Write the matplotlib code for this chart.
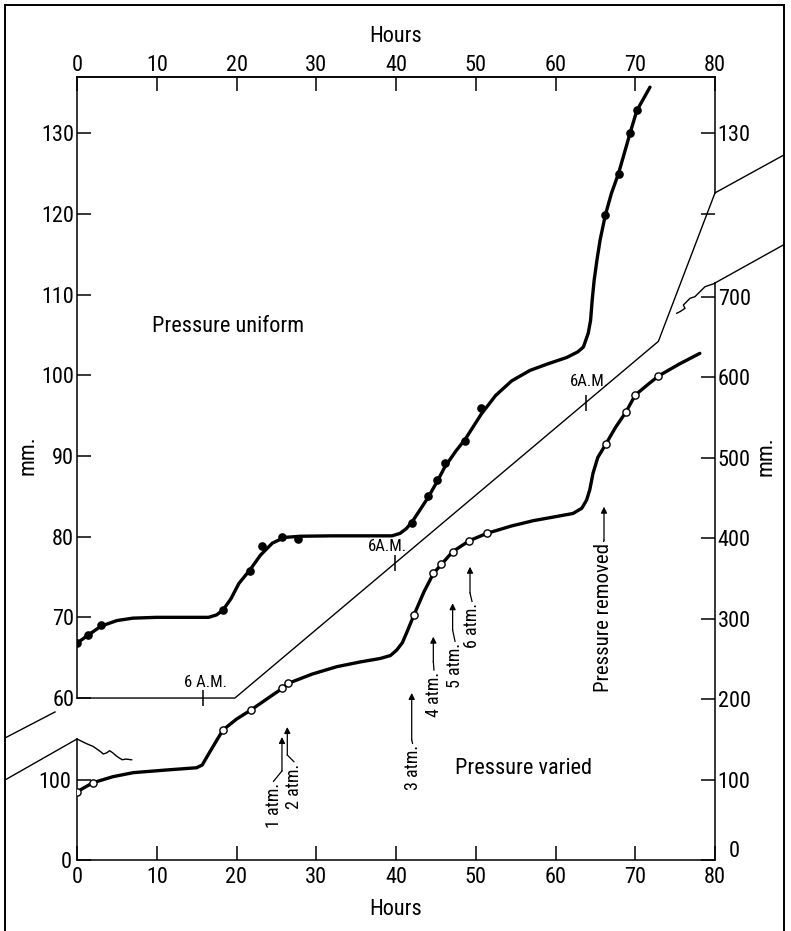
import matplotlib
matplotlib.use('Agg')
import matplotlib.pyplot as plt
from matplotlib.lines import Line2D
from matplotlib import font_manager as fm

_avail = set(f.name for f in fm.fontManager.ttflist)
_fam = [f for f in ['Roboto Condensed', 'PT Sans Narrow', 'Liberation Sans Narrow'] if f in _avail]
plt.rcParams['font.family'] = (_fam[:1] or ['Liberation Sans']) + ['DejaVu Sans']

# ---------------- data ----------------
hour_ticks = [0, 10, 20, 30, 40, 50, 60, 70, 80]
upper_ticks = [60, 70, 80, 90, 100, 110, 120, 130]          # left scale, mm (Pressure uniform)
right_ticks = [0, 100, 200, 300, 400, 500, 600, 700]       # right scale, mm (Pressure varied)
right_labels = ['', '100', '200', '300', '400', '500', '600', '700']
lower_left_ticks = [0, 100]
upper_right_ticks = [120, 130]
upper_right_labels = ['', '130']

# Pressure uniform: observations (filled dots) and drawn curve, left scale
uni_pts_h = [0, 1.4, 3.0, 18.3, 21.7, 23.2, 25.7, 27.75, 42.0, 44.05, 45.2, 46.1, 48.7, 50.7,
             66.2, 67.9, 69.35, 70.2]
uni_pts_mm = [66.8, 67.8, 69.0, 70.9, 75.7, 78.8, 79.9, 79.7, 81.7, 85.0, 87.0, 89.1, 91.9, 96.0,
              119.85, 125.0, 130.0, 132.9]
uni_curve_h = [0, 1.4, 3.0, 5, 7, 10, 14, 16.5, 17.5, 18.3, 19.3, 20.3, 21.7, 23.0, 24.5, 26, 28,
               32, 36, 39.5, 40.5, 41.3, 42.0, 43, 44.05, 45.2, 46.1, 47.5, 48.7, 50.7, 52.5, 54.5,
               56.8, 59, 61.4, 62.8, 63.5, 64.1, 64.4, 64.6, 64.85, 65.2, 65.6, 66.25, 67.0, 67.9,
               69.35, 70.2, 71.85]
uni_curve_mm = [66.8, 67.8, 68.9, 69.6, 69.9, 70.0, 70.0, 70.0, 70.3, 70.9, 72.3, 74.2, 75.9, 77.7,
                79.2, 79.9, 80.05, 80.1, 80.1, 80.1, 80.4, 81.0, 81.8, 83.3, 84.9, 86.9, 88.6, 90.6,
                92.1, 95.2, 97.5, 99.3, 100.6, 101.4, 102.2, 102.9, 103.5, 105.2, 106.8, 109.3,
                111.8, 114.3, 116.8, 119.85, 122.5, 125.0, 130.0, 132.8, 135.7]

# Pressure varied: observations (open circles) and drawn curve, right scale
var_pts_h = [0, 2.0, 18.3, 21.8, 25.75, 26.5, 42.25, 44.7, 45.7, 47.1, 49.2, 51.4, 66.3, 68.8, 70.0, 72.9]
var_pts_mm = [84.8, 96, 161.5, 186.3, 213.3, 219.5, 304.3, 356.1, 367.3, 383, 396.7, 405.8,
              516.4, 556, 577.6, 601.2]
var_curve_h = [0, 2.0, 4.5, 7.05, 11.2, 15.0, 15.7, 16.3, 17.3, 18.3, 20, 21.8, 23.8, 25.75, 26.5,
               29.5, 32.6, 35.5, 38.0, 39.3, 40.1, 40.8, 41.3, 42.25, 43.5, 44.7, 45.7, 47.1, 49.2,
               51.4, 54.5, 57.2, 60, 62.2, 63.3, 63.9, 64.3, 64.7, 65.3, 66.3, 67.5, 68.8, 70.0,
               71.5, 72.9, 75.5, 78.1]
var_curve_mm = [84.8, 96, 103.5, 108.5, 111.8, 114.6, 118, 128.3, 145, 161.5, 175, 186.3, 200,
                213.3, 219.5, 231, 240.2, 246, 250.3, 254, 260.9, 270, 281.5, 304.3, 333, 356.1,
                367.3, 383, 396.7, 405.8, 415, 421.5, 426.5, 430.5, 437, 447.2, 460, 480.3, 500,
                516.4, 537, 556, 577.6, 590, 601.2, 616, 629.4]

# boundary / reference line, left scale
ref_h = [0, 19.8, 72.9, 80, 88.65]
ref_mm = [60, 60, 104.2, 122.6, 127.3]

# "6 A.M." marks on the reference line (left scale)
sixam_h = [15.85, 39.9, 63.8]
sixam_mm = [60, 76.7, 96.6]
sixam_labels = ['6 A.M.', '6A.M.', '6A.M.']

# broken-scale lines (right scale units)
brk_la_h = [-9.03, -2.76]
brk_la_mm = [151.6, 183.9]
brk_lb_h = [-9.03, 0]
brk_lb_mm = [99.4, 150.3]
brk_rb_h = [80, 88.65]
brk_rb_mm = [716.8, 764.5]
wave_l_h = [0, 1.2, 2.0, 2.9, 3.3, 3.7, 4.1, 4.5, 4.9, 5.3, 5.7, 6.1, 6.85]
wave_l_mm = [150.3, 144.5, 141.2, 135, 131.7, 133, 135.8, 133, 129.5, 126.7, 124.5, 125.4, 124.5]
wave_r_h = [80.0, 79.37, 78.75, 78.33, 77.91, 77.49, 76.87, 76.45, 76.03, 76.24, 75.61, 75.20]
wave_r_mm = [716.4, 714.3, 712.2, 708.1, 704.0, 699.8, 697.8, 693.6, 689.4, 685.3, 681.2, 679.2]

# pressure-change annotations (right scale)
press_labels = ['1 atm.', '2 atm.', '3 atm.', '4 atm.', '5 atm.', '6 atm.', 'Pressure removed']
press_text_h = [24.64, 27.2, 42.07, 44.76, 47.4, 49.53, 66.04]
press_text_top = [95.7, 120.1, 142.9, 233.9, 269.6, 319.3, 393.8]
press_arrow_h = [25.7, 26.37, 41.97, 44.68, 47.1, 49.28, 66.08]
press_arrow_base = [110.6, 130.4, 149.1, 246.3, 285.7, 331.7, 397.5]
press_arrow_tip = [152.8, 165.2, 207.5, 277.4, 318.9, 364.3, 438.9]

# spine segments (right scale units)
left_gap = (150.3, 201.2)
right_gap = (716.8, 828.6)
R_TOP = 972.7
U_LIM = (39.93, 136.96)

# ---------------- figure ----------------
W, H = 791, 931
fig = plt.figure(figsize=(W / 100, H / 100), dpi=100)
ax = fig.add_axes([77 / W, 1 - 860 / H, (715 - 77) / W, (860 - 77) / H])
axU = ax.twinx()

ax.set_xlim(0, 80)
ax.set_ylim(0, R_TOP)
axU.set_ylim(*U_LIM)

FS = 16
TL = 10
LW = 1.1

# right scale ticks on right side
ax.yaxis.tick_right()
ax.set_yticks(right_ticks)
ax.set_yticklabels(right_labels)
ax.tick_params(axis='y', direction='in', length=TL, width=LW, labelsize=FS, pad=2)
ax.annotate('0', xy=(80, 0), xytext=(14, 6), textcoords='offset points',
            ha='center', va='center', fontsize=FS)
ax.set_xticks(hour_ticks)
ax.tick_params(axis='x', direction='in', length=TL, width=LW, labelsize=FS, pad=5,
               top=False, bottom=True)
ax.set_xlabel('Hours', fontsize=FS, labelpad=8)

secx = ax.secondary_xaxis('top')
secx.set_xticks(hour_ticks)
secx.tick_params(direction='in', length=TL, width=LW, labelsize=FS, pad=1)
secx.set_xlabel('Hours', fontsize=FS, labelpad=9)
secx.spines['top'].set_linewidth(LW)

secl = ax.secondary_yaxis('left')
secl.set_yticks(lower_left_ticks)
secl.tick_params(direction='in', length=TL, width=LW, labelsize=FS, pad=4)
secl.spines['left'].set_visible(False)

# upper scale ticks on left side
axU.yaxis.tick_left()
axU.set_yticks(upper_ticks)
axU.tick_params(axis='y', direction='in', length=TL, width=LW, labelsize=FS, pad=2)
for s in axU.spines.values():
    s.set_visible(False)
secr = axU.secondary_yaxis('right')
secr.set_yticks(upper_right_ticks)
secr.set_yticklabels(upper_right_labels)
secr.tick_params(direction='in', length=TL, width=LW, labelsize=FS, pad=2)
secr.spines['right'].set_visible(False)

# spines with breaks
for k in ['top', 'bottom', 'left', 'right']:
    ax.spines[k].set_linewidth(LW)
ax.spines['left'].set_bounds(left_gap[1], R_TOP)
ax.spines['right'].set_bounds(0, right_gap[0])
ax.plot([0, 0], [0, left_gap[0]], color='black', lw=LW, clip_on=False)
ax.plot([80, 80], [right_gap[1], R_TOP], color='black', lw=LW, clip_on=False)

# break decorations
ax.plot(brk_la_h, brk_la_mm, color='black', lw=1.0, clip_on=False)
ax.plot(brk_lb_h, brk_lb_mm, color='black', lw=1.0, clip_on=False)
ax.plot(brk_rb_h, brk_rb_mm, color='black', lw=1.0, clip_on=False)
ax.plot(wave_l_h, wave_l_mm, color='black', lw=1.0, clip_on=False)
ax.plot(wave_r_h, wave_r_mm, color='black', lw=1.0, clip_on=False)

# reference line
axU.plot(ref_h, ref_mm, color='black', lw=1.0, clip_on=False)
axU.plot(sixam_h, sixam_mm, linestyle='none', marker='|', markersize=11, mew=1.1, color='black')
sixam_dx = [1.2, -5.4, 2.4]
sixam_dy = [5.8, 6.5, 10.0]
for h, m, t, dx, dy in zip(sixam_h, sixam_mm, sixam_labels, sixam_dx, sixam_dy):
    axU.annotate(t, xy=(h, m), xytext=(dx, dy), textcoords='offset points',
                 ha='center', va='bottom', fontsize=12)

# curves
axU.plot(uni_curve_h, uni_curve_mm, color='black', lw=2.4, solid_capstyle='round',
         solid_joinstyle='round')
axU.plot(uni_pts_h, uni_pts_mm, linestyle='none', marker='o', markersize=5.2, color='black')
ax.plot(var_curve_h, var_curve_mm, color='black', lw=2.4, solid_capstyle='round',
        solid_joinstyle='round')
ax.plot(var_pts_h, var_pts_mm, linestyle='none', marker='o', markersize=5.2,
        markerfacecolor='white', markeredgecolor='black', markeredgewidth=1.0, zorder=5)

# pressure annotations
for lab, th, tt, ah, ab, at in zip(press_labels, press_text_h, press_text_top,
                                    press_arrow_h, press_arrow_base, press_arrow_tip):
    ax.text(th, tt, lab, rotation=90, ha='center', va='top',
            fontsize=15 if len(lab) > 8 else 13)
    ax.plot([th, ah], [tt + 2, ab], color='black', lw=0.9)
    ax.annotate('', xy=(ah, at), xytext=(ah, ab),
                arrowprops=dict(arrowstyle='-|>', lw=0.9, color='black',
                                mutation_scale=9, shrinkA=0, shrinkB=0))

# series labels
axU.text(9.37, 106.0, 'Pressure uniform', fontsize=16, ha='left', va='center')
ax.text(47.4, 113.9, 'Pressure varied', fontsize=16, ha='left', va='center')
ax.text(-6.14, 503, 'mm.', rotation=90, fontsize=16, ha='center', va='center')
ax.text(86.4, 502, 'mm.', rotation=90, fontsize=16, ha='center', va='center')

# outer frame
fx0, fx1, fy1 = 5 / W, 784 / W, 1 - 5 / H
fig.add_artist(Line2D([fx0, fx0], [0, fy1], color='black', lw=1.4))
fig.add_artist(Line2D([fx0, fx1], [fy1, fy1], color='black', lw=1.4))
fig.add_artist(Line2D([fx1, fx1], [0, fy1], color='black', lw=1.4))

fig.savefig('out.png', dpi=100)
